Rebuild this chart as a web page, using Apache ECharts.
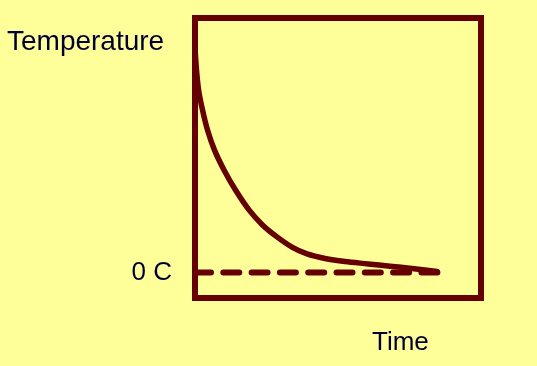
<!DOCTYPE html>
<html>
<head>
<meta charset="utf-8">
<script src="https://cdn.jsdelivr.net/npm/echarts@6/dist/echarts.min.js"></script>
<style>
html,body{margin:0;padding:0;background:#FFFF99;}
#c{width:537px;height:366px;}
</style>
</head>
<body>
<div id="c"></div>
<script>
// Cooling curve (time, temperature) in arbitrary units; 0 = 0 C
const coolingTime = [0, 0.052, 0.126, 0.262, 0.437, 0.682, 1.014, 1.416, 1.888, 2.36, 2.867, 3.392, 3.916, 4.545, 5.245, 6.049, 6.818, 7.587, 8.462];
const coolingTemp = [8.82, 7.96, 7.17, 6.39, 5.60, 4.81, 4.03, 3.24, 2.46, 1.87, 1.40, 1.00, 0.73, 0.55, 0.43, 0.34, 0.25, 0.16, 0.04];
const zeroLineTime = [0, 8.5];
const zeroLineTemp = [0, 0];
const yLabelText = 'Temperature';
const xLabelText = 'Time';
const zeroLabelText = '0 C';

const dark = '#660000';
const textColor = '#000033';
const font = 'Liberation Sans, Arial, sans-serif';

const chart = echarts.init(document.getElementById('c'));
chart.setOption({
  backgroundColor: '#FFFF99',
  animation: false,
  grid: {
    left: 195, right: 56, top: 18, bottom: 68,
    show: true, borderColor: dark, borderWidth: 6, backgroundColor: 'transparent'
  },
  xAxis: {
    type: 'value', min: 0, max: 10,
    axisLine: {show: false}, axisTick: {show: false},
    splitLine: {show: false}, axisLabel: {show: false}
  },
  yAxis: {
    type: 'value', min: -1, max: 10,
    axisLine: {show: false}, axisTick: {show: false},
    splitLine: {show: false},
    axisLabel: {
      customValues: [0],
      formatter: () => zeroLabelText,
      color: textColor, fontSize: 26, fontFamily: font, margin: 23
    }
  },
  series: [
    {
      type: 'line',
      data: zeroLineTime.map((t, i) => [t, zeroLineTemp[i]]),
      showSymbol: false, symbol: 'none',
      lineStyle: {color: dark, width: 6, type: [16, 12.3], cap: 'round'},
      z: 3
    },
    {
      type: 'line',
      data: coolingTime.map((t, i) => [t, coolingTemp[i]]),
      smooth: 0.3, showSymbol: false, symbol: 'none',
      lineStyle: {color: dark, width: 5.5, cap: 'round', join: 'round'},
      z: 4
    }
  ],
  graphic: [
    {type: 'text', left: 7, top: 28, style: {text: yLabelText, fill: textColor, fontSize: 28, fontFamily: font}},
    {type: 'text', left: 372, top: 330, style: {text: xLabelText, fill: textColor, fontSize: 26, fontFamily: font}}
  ]
});
</script>
</body>
</html>
